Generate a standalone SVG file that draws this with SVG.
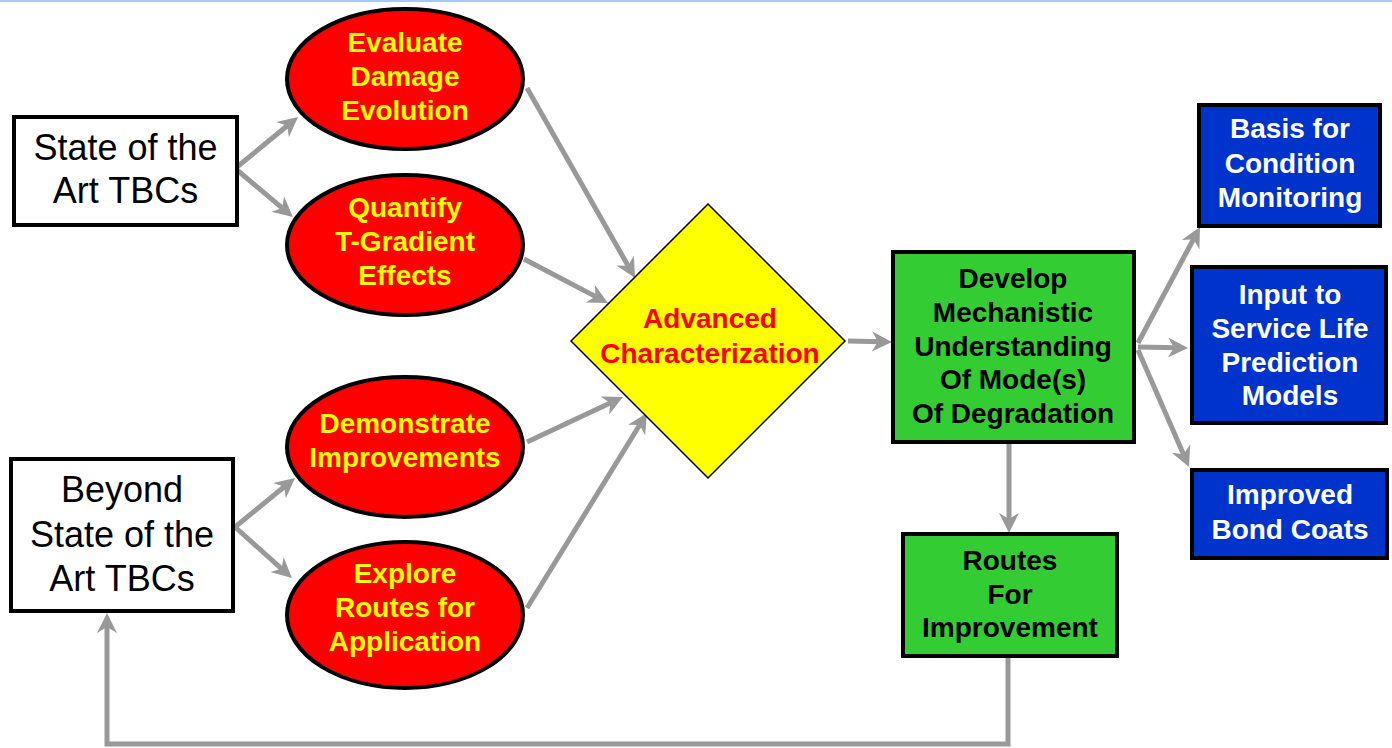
<svg xmlns="http://www.w3.org/2000/svg" width="1392" height="748" viewBox="0 0 1392 748">
<style>
.wbox{fill:#ffffff;stroke:#000000;stroke-width:4}
.oval{fill:#ff0000;stroke:#000000;stroke-width:4}
.gbox{fill:#33cc33;stroke:#000000;stroke-width:4}
.bbox{fill:#0033cc;stroke:#000000;stroke-width:4}
.dia{fill:#ffff00;stroke:#000000;stroke-width:1.5}
.reg{font-family:"Liberation Sans",Arial,sans-serif;font-size:36px;fill:#000000;text-anchor:middle}
.b{font-family:"Liberation Sans",Arial,sans-serif;font-size:28px;font-weight:bold;text-anchor:middle}
.yel{fill:#ffff00}
.red{fill:#ff0000}
.blk{fill:#000000}
.wht{fill:#ffffff}
.conn{fill:none;stroke:#999999;stroke-width:5;marker-end:url(#ah)}
</style>
<defs>
<marker id="ah" markerUnits="userSpaceOnUse" viewBox="-12 -12 24 24" markerWidth="24" markerHeight="24" refX="0" refY="0" orient="auto">
<path d="M10,0 L-10,-10 L-4,0 L-10,10 Z" fill="#999999"/>
</marker>
</defs>
<rect x="0" y="0" width="1392" height="2" fill="#aac6f6"/>

<g id="connectors">
<path class="conn" d="M237,167 L290.3,123.3"/>
<path class="conn" d="M237,170 L285.3,210.6"/>
<path class="conn" d="M235,527 L287.3,484.3"/>
<path class="conn" d="M235,527 L284.5,571.3"/>
<path class="conn" d="M527,88 L630.1,269.3"/>
<path class="conn" d="M524,259 L599.1,298.4"/>
<path class="conn" d="M527,442 L613.9,401.2"/>
<path class="conn" d="M527,608 L641.8,421.5"/>
<path class="conn" d="M848,341 L882,341.8"/>
<path class="conn" d="M1138,343 L1195.3,235.8"/>
<path class="conn" d="M1138,347 L1178,347.8"/>
<path class="conn" d="M1138,350 L1185,457.8"/>
<path class="conn" d="M1009,444 L1009,523"/>
<path class="conn" d="M1008,658 L1008,744 L107,744 L107,623"/>
</g>

<g id="state">
<rect class="wbox" x="14" y="117" width="223" height="108"/>
<text class="reg" x="125.5" y="160">State of the</text>
<text class="reg" x="125.5" y="203">Art TBCs</text>
</g>

<g id="beyond">
<rect class="wbox" x="11" y="459" width="222" height="152"/>
<text class="reg" x="122" y="502">Beyond</text>
<text class="reg" x="122" y="547">State of the</text>
<text class="reg" x="122" y="591">Art TBCs</text>
</g>

<g id="evaluate">
<ellipse class="oval" cx="405" cy="79" rx="118" ry="70"/>
<text class="b yel" x="405" y="52">Evaluate</text>
<text class="b yel" x="405" y="86">Damage</text>
<text class="b yel" x="405" y="120">Evolution</text>
</g>

<g id="quantify">
<ellipse class="oval" cx="405" cy="245" rx="118" ry="70"/>
<text class="b yel" x="405" y="217">Quantify</text>
<text class="b yel" x="405" y="251">T-Gradient</text>
<text class="b yel" x="405" y="285">Effects</text>
</g>

<g id="demonstrate">
<ellipse class="oval" cx="405" cy="447" rx="118" ry="70"/>
<text class="b yel" x="405" y="433">Demonstrate</text>
<text class="b yel" x="405" y="467">Improvements</text>
</g>

<g id="explore">
<ellipse class="oval" cx="405" cy="615" rx="118" ry="73"/>
<text class="b yel" x="405" y="583">Explore</text>
<text class="b yel" x="405" y="617">Routes for</text>
<text class="b yel" x="405" y="651">Application</text>
</g>

<g id="advanced">
<polygon class="dia" points="708,204 845,341 708,478 571,341"/>
<text class="b red" x="710" y="328">Advanced</text>
<text class="b red" x="710" y="363">Characterization</text>
</g>

<g id="develop">
<rect class="gbox" x="893" y="252" width="241" height="190"/>
<text class="b blk" x="1013" y="288">Develop</text>
<text class="b blk" x="1013" y="322">Mechanistic</text>
<text class="b blk" x="1013" y="356">Understanding</text>
<text class="b blk" x="1013" y="389">Of Mode(s)</text>
<text class="b blk" x="1013" y="423">Of Degradation</text>
</g>

<g id="routes">
<rect class="gbox" x="903" y="534" width="214" height="122"/>
<text class="b blk" x="1010" y="570">Routes</text>
<text class="b blk" x="1010" y="604">For</text>
<text class="b blk" x="1010" y="637">Improvement</text>
</g>

<g id="basis">
<rect class="bbox" x="1199" y="105" width="181" height="121"/>
<text class="b wht" x="1290" y="138">Basis for</text>
<text class="b wht" x="1290" y="173">Condition</text>
<text class="b wht" x="1290" y="207">Monitoring</text>
</g>

<g id="input">
<rect class="bbox" x="1192" y="267" width="194" height="156"/>
<text class="b wht" x="1290" y="304">Input to</text>
<text class="b wht" x="1290" y="338">Service Life</text>
<text class="b wht" x="1290" y="372">Prediction</text>
<text class="b wht" x="1290" y="405">Models</text>
</g>

<g id="improved">
<rect class="bbox" x="1192" y="470" width="195" height="88"/>
<text class="b wht" x="1290" y="504">Improved</text>
<text class="b wht" x="1290" y="539">Bond Coats</text>
</g>
</svg>
